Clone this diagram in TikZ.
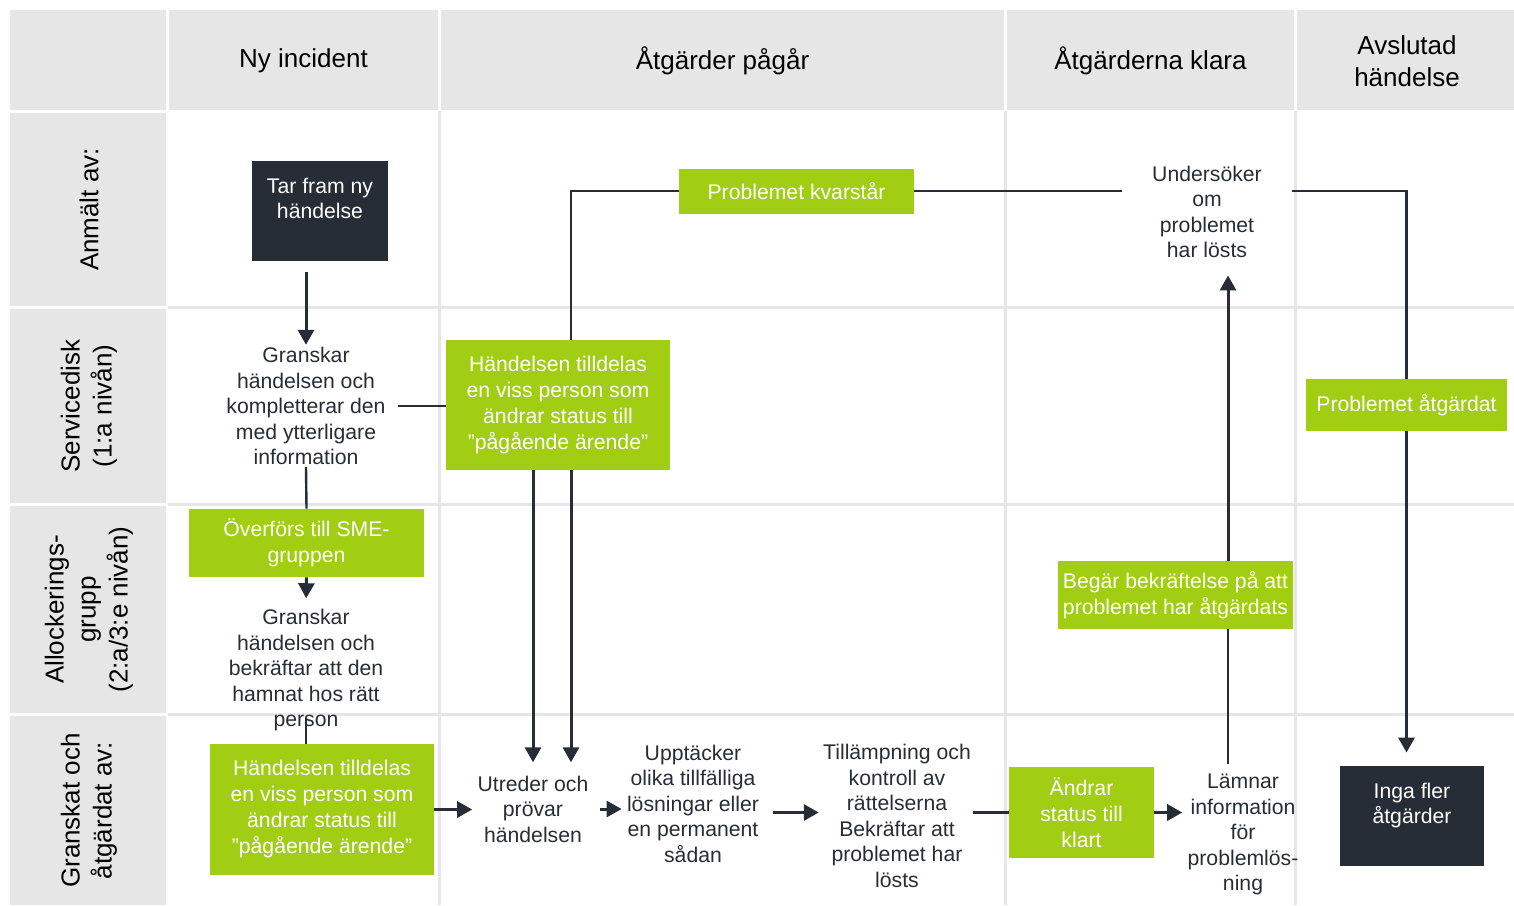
\documentclass[tikz,border=0pt]{standalone}
\usepackage{fontspec}
\setmainfont{Liberation Sans}
\usepackage{tikz}
\usetikzlibrary{arrows.meta,positioning}
\definecolor{cellgray}{RGB}{230,230,230}
\definecolor{limegreen}{RGB}{161,205,19}
\definecolor{boxdark}{RGB}{38,45,54}
\newcommand{\straightq}{\symbol{34}}
\tikzstyle{arrow} = [line width=1.5pt,draw=boxdark,-{Triangle[length=7.5pt,width=8pt]}]
\tikzstyle{conn} = [line width=1.2pt,draw=boxdark]
\tikzstyle{greenbox} = [fill=limegreen,text=white,align=center,inner sep=0pt,font=\fontsize{10.6}{13}\selectfont]
\tikzstyle{darkbox} = [fill=boxdark,text=white,align=center,inner sep=0pt,font=\fontsize{10.6}{12.75}\selectfont]
\tikzstyle{steptext} = [text=boxdark,align=center,inner sep=1pt,font=\fontsize{10.6}{12.75}\selectfont]
\tikzstyle{headtext} = [text=black,align=center,font=\fontsize{13}{16}\selectfont]
\tikzstyle{lanetext} = [headtext,rotate=90]

\begin{document}
\begin{tikzpicture}[x=0.5pt,y=-0.5pt]
            \useasboundingbox (0,0) rectangle (1514,905);
            % grey header row and lane column
            \fill[cellgray] (10,10) rectangle (166,110);
            \foreach \a/\b in {169/438,441/1004,1007/1294,1297/1514}
                \fill[cellgray] (\a,10) rectangle (\b,110);
            \foreach \a/\b in {113/306,309/503,506/713,716/905}
                \fill[cellgray] (10,\a) rectangle (166,\b);
            % grid lines in the body
            \foreach \x in {439.5,1005.5,1295.5}
                \draw[cellgray, line width=1.5pt] (\x,111) -- (\x,905);
            \foreach \y in {307.5,504.5,714.5}
                \draw[cellgray, line width=1.5pt] (168,\y) -- (1514,\y);

            % headers
            \node[headtext] (hdnew) at (303.5,61) {Ny incident};
            \node[headtext] (hdwork) at (722.5,61) {Åtgärder pågår};
            \node[headtext] (hddone) at (1150.5,61) {Åtgärderna klara};
            \node[headtext] (hdclosed) at (1407,61) {Avslutad\\händelse};
            \node[lanetext] (lnreport) at (89,209.5) {Anmält av:};
            \node[lanetext] (lnservice) at (89,406) {Servicedisk\\(1:a nivån)};
            \node[lanetext] (lnalloc) at (89,609.5) {Allockerings-\\grupp\\(2:a/3:e nivån)};
            \node[lanetext] (lnreview) at (89,810.5) {Granskat och\\åtgärdat av:};

            % steps
            \node[darkbox, minimum width=68pt, minimum height=50pt] (tar) at (320,211) {Tar fram ny\\händelse\\~};
            \node[steptext] (gran1) at (306,406) {Granskar\\händelsen och\\kompletterar den\\med ytterligare\\information};
            \node[greenbox, minimum width=112pt, minimum height=65pt] (hand1) at (558,405) {Händelsen tilldelas\\en viss person som\\ändrar status till\\\straightq pågående ärende\straightq};
            \node[greenbox, minimum width=117.5pt, minimum height=22.5pt] (kvar) at (796.5,191) {Problemet kvarstår};
            \node[steptext, minimum width=85pt] (undersok) at (1207,212) {Undersöker\\om\\problemet\\har lösts};
            \node[greenbox, minimum width=100.5pt, minimum height=26pt] (atgardat) at (1406.5,405) {Problemet åtgärdat};
            \node[greenbox, minimum width=117.5pt, minimum height=34pt] (sme) at (306.5,543) {Överförs till SME-\\gruppen};
            \node[steptext] (gran2) at (306,670.5) {Granskar\\händelsen och\\bekräftar att den\\hamnat hos rätt\\person};
            \node[greenbox, minimum width=112pt, minimum height=65.5pt] (hand2) at (322,809.5) {Händelsen tilldelas\\en viss person som\\ändrar status till\\\straightq pågående ärende\straightq};
            \node[steptext] (utred) at (533,809) {Utreder och\\prövar\\händelsen};
            \node[steptext] (upptack) at (693,803.5) {Upptäcker\\olika tillfälliga\\lösningar eller\\en permanent\\sådan};
            \node[steptext] (till) at (897,816) {Tillämpning och\\kontroll av\\rättelserna\\Bekräftar att\\problemet har\\lösts};
            \node[greenbox, minimum width=72.5pt, minimum height=45.5pt] (andrar) at (1081.5,812.5) {Ändrar\\status till\\klart};
            \node[steptext] (lamnar) at (1243,834.5) {Lämnar\\information\\för\\problemlös-\\ning};
            \node[greenbox, minimum width=117.5pt, minimum height=34pt] (begar) at (1175.5,595) {Begär bekräftelse på att\\problemet har åtgärdats};
            \node[darkbox, minimum width=72pt, minimum height=50pt] (inga) at (1412,816) {Inga fler\\åtgärder\\~};

            % connectors
            \draw[arrow, shorten <=5.5pt] (gran1.north |- tar.south) -- (gran1.north);
            \draw[conn, shorten <=5pt] (gran1.east) -- (gran1.east -| hand1.west);
            \draw[conn] (gran1.south) -- (sme.north);
            \draw[arrow, shorten >=4.5pt] (sme.south) -- (gran2.north);
            \draw[conn] ([yshift=8pt]gran2.south) -- (gran2.south |- hand2.north);
            \draw[arrow, shorten >=1.5pt] (hand2.east) -- (hand2.east -| utred.west);
            \draw[conn] (kvar.west) -| ([xshift=6.5pt]hand1.north);
            \draw[arrow, shorten >=5.5pt] (utred.north |- hand1.south) -- (utred.north);
            \draw[arrow, shorten >=5.5pt] ([xshift=6.5pt]hand1.south) -- ([xshift=6.5pt]hand1.south |- utred.north);
            \draw[arrow, shorten <=4.5pt, shorten >=1.5pt] (utred.east) -- (utred.east -| upptack.west);
            \draw[arrow, shorten <=6pt, shorten >=1pt] (upptack.east |- andrar.west) -- (till.west |- andrar.west);
            \draw[conn] (till.east |- andrar.west) -- (andrar.west);
            \draw[arrow, shorten >=1.5pt] (andrar.east) -- (andrar.east -| lamnar.west);
            \draw[conn] ([xshift=-7.5pt,yshift=4pt]lamnar.north) -- ([xshift=-7.5pt]lamnar.north |- begar.south);
            \draw[arrow, shorten >=7.5pt] ([xshift=-7.5pt]lamnar.north |- begar.north) -- ([xshift=-7.5pt]lamnar.north |- undersok.south);
            \draw[conn] (kvar.east) -- (kvar.east -| undersok.west);
            \draw[conn] (kvar.east -| undersok.east) -| (atgardat.north);
            \draw[arrow, shorten >=6.5pt] (atgardat.south) -- (atgardat.south |- inga.north);
        \end{tikzpicture}
\end{document}
